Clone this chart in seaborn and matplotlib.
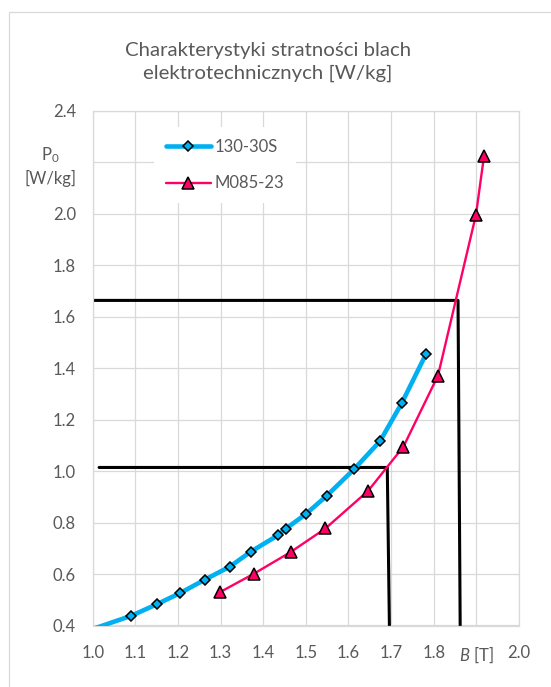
import matplotlib
matplotlib.use("Agg")
import matplotlib.pyplot as plt
import seaborn as sns
import numpy as np
from matplotlib.patches import Rectangle

# Values
b_130 = [0.98, 1.091, 1.151, 1.205, 1.263, 1.322, 1.371, 1.434, 1.453, 1.500,
         1.549, 1.613, 1.674, 1.725, 1.782]
p_130 = [0.375, 0.438, 0.483, 0.526, 0.578, 0.629, 0.687, 0.750, 0.776, 0.833,
         0.904, 1.007, 1.116, 1.264, 1.455]

b_m085 = [1.299, 1.378, 1.464, 1.546, 1.646, 1.729, 1.810, 1.899, 1.918]
p_m085 = [0.530, 0.601, 0.685, 0.777, 0.923, 1.095, 1.371, 1.995, 2.225]

# reading lines (black)
ref_hi_b = [1.0, 1.857, 1.862]
ref_hi_p = [1.663, 1.663, 0.4]
ref_lo_b = [1.015, 1.691, 1.696]
ref_lo_p = [1.014, 1.014, 0.4]

x_ticks = [1.0, 1.1, 1.2, 1.3, 1.4, 1.5, 1.6, 1.7, 1.8, 1.9, 2.0]
x_labels = ["1.0", "1.1", "1.2", "1.3", "1.4", "1.5", "1.6", "1.7", "1.8",
            r"$\mathit{B}$ [T]", "2.0"]
y_ticks = [0.4, 0.6, 0.8, 1.0, 1.2, 1.4, 1.6, 1.8, 2.0, 2.2, 2.4]
y_labels = ["0.4", "0.6", "0.8", "1.0", "1.2", "1.4", "1.6", "1.8", "2.0", "", "2.4"]

sns.set_style("white")
plt.rcParams["font.family"] = ["Lato", "DejaVu Sans"]
plt.rcParams["mathtext.fontset"] = "custom"
plt.rcParams["mathtext.rm"] = "Lato"
plt.rcParams["mathtext.it"] = "Lato:italic"

grey_txt = "#595959"
grid_c = "#d9d9d9"

fig = plt.figure(figsize=(5.51, 6.87), dpi=100)
ax = fig.add_axes([92.7 / 551, 1 - 625.5 / 687, (519 - 92.7) / 551, (625.5 - 110.7) / 687])

# chart area border
fig.patches.append(Rectangle((9 / 551, -0.1), 1.2, 1.1 - 12 / 687,
                             transform=fig.transFigure, fill=False,
                             edgecolor=grid_c, linewidth=0.9))

sns.lineplot(x=ref_hi_b, y=ref_hi_p, sort=False, estimator=None, color="black",
             linewidth=2.2, ax=ax, zorder=2)
sns.lineplot(x=ref_lo_b, y=ref_lo_p, sort=False, estimator=None, color="black",
             linewidth=2.2, ax=ax, zorder=2)

sns.lineplot(x=b_130, y=p_130, sort=False, estimator=None, color="#00B0F0",
             linewidth=3.3, marker="D", markersize=5.2, markerfacecolor="#00B0F0",
             markeredgecolor="black", markeredgewidth=1.1, label="130-30S",
             ax=ax, zorder=4)
sns.lineplot(x=b_m085, y=p_m085, sort=False, estimator=None, color="#FF0066",
             linewidth=1.7, marker="^", markersize=8, markerfacecolor="#FF0066",
             markeredgecolor="black", markeredgewidth=1.1, label="M085-23",
             ax=ax, zorder=3)

ax.set_xlim(1.0, 2.0)
ax.set_ylim(0.4, 2.4)
ax.set_xticks(x_ticks)
ax.set_xticklabels(x_labels)
ax.set_yticks(y_ticks)
ax.set_yticklabels(y_labels)
ax.tick_params(axis="both", length=0, labelsize=12, labelcolor=grey_txt)
ax.tick_params(axis="x", pad=14)
ax.tick_params(axis="y", pad=12)
ax.grid(True, color=grid_c, linewidth=0.9)
ax.set_axisbelow(True)
for s in ax.spines.values():
    s.set_color(grid_c)
    s.set_linewidth(0.9)
ax.set_xlabel("")
ax.set_ylabel("")

fig.text(50 / 551, 1 - 166 / 687, "P$_0$\n[W/kg]", ha="center", va="center",
         fontsize=12, color=grey_txt, multialignment="center", linespacing=1.4)

fig.text(268 / 551, 1 - 62 / 687, "Charakterystyki stratności blach\nelektrotechnicznych [W/kg]",
         ha="center", va="center", fontsize=14.7, color=grey_txt,
         multialignment="center", linespacing=1.35)

leg = ax.legend(loc="upper left", bbox_to_anchor=(154 / 551, 1 - 127 / 687),
                bbox_transform=fig.transFigure, borderaxespad=0, borderpad=0.7,
                handlelength=2.7, handletextpad=0.25, labelspacing=1.25,
                fontsize=12, frameon=True, fancybox=False)
leg.get_frame().set_facecolor("white")
leg.get_frame().set_edgecolor("none")
leg.get_frame().set_alpha(1)
for t in leg.get_texts():
    t.set_color(grey_txt)

fig.savefig("out.png", dpi=100)
